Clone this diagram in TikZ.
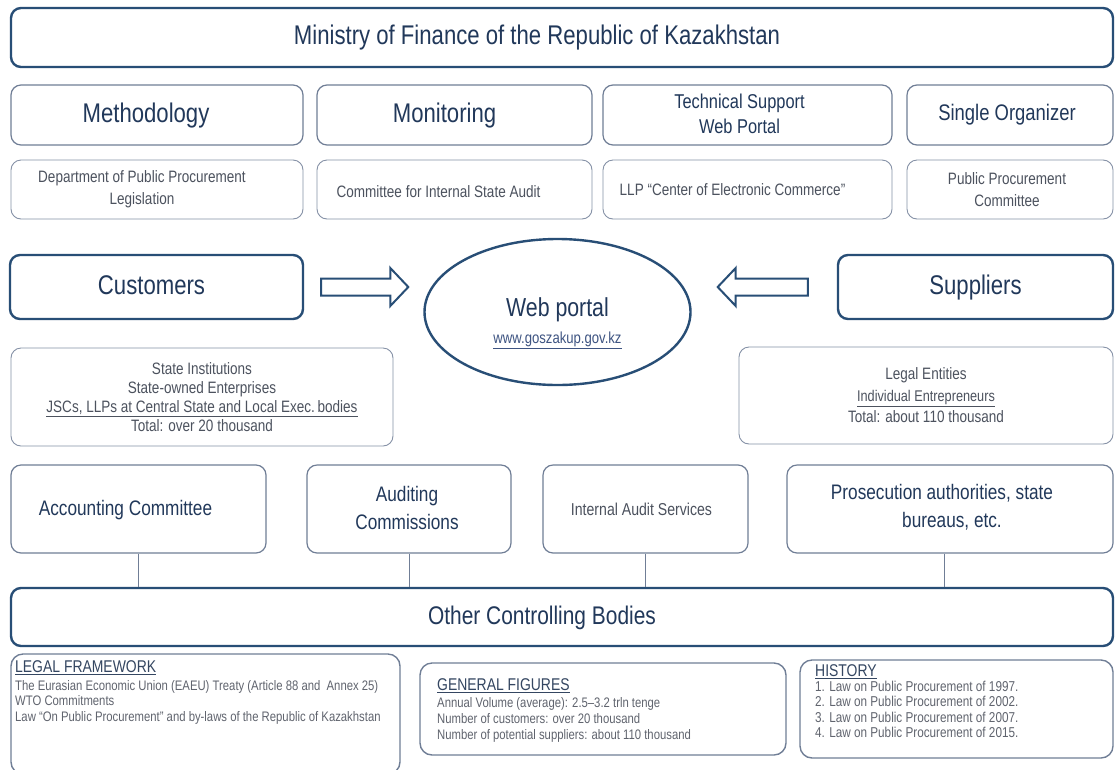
\documentclass[tikz,border=0pt]{standalone}
\usepackage{fontspec}
\setmainfont{Liberation Sans}[FakeStretch=0.82]
\usetikzlibrary{calc,shapes.geometric}

\definecolor{navy}{RGB}{33,56,90}
\definecolor{edge}{RGB}{40,78,118}
\definecolor{thinedge}{RGB}{112,126,150}
\definecolor{bodytext}{RGB}{76,82,94}
\definecolor{notetext}{RGB}{96,100,110}
\definecolor{linktext}{RGB}{62,84,130}

\newcommand{\fsz}[2]{\fontsize{#1}{#2}\selectfont}

\tikzset{
  heavybox/.style={draw=edge, line width=2.4pt, rounded corners=10pt, inner sep=0pt},
  lightbox/.style={draw=thinedge, line width=1.2pt, rounded corners=10pt, inner sep=0pt},
  faintbox/.style={draw=thinedge!85, line width=0.9pt, rounded corners=10pt, inner sep=0pt},
  notebox/.style={draw=thinedge, line width=1.4pt, rounded corners=12pt, inner sep=0pt},
  title/.style={text=navy, font=\fsz{27}{32}, inner sep=0pt, text height=19.5pt, text depth=5.5pt},
  subtitle/.style={text=navy, font=\fsz{21}{28}, align=center, inner sep=0pt},
  small/.style={text=bodytext, font=\fsz{16.5}{22}, align=center, inner sep=0pt},
  notehead/.style={text=navy!80!gray, font=\fsz{17}{18}, anchor=west, inner sep=0pt},
  notebody/.style={text=notetext, font=\fsz{13.8}{15.5}, align=left, anchor=north west, inner sep=0pt},
  blockarrow/.style={draw=edge, line width=2pt, fill=white, line join=miter},
  tie/.style={draw=thinedge, line width=0.9pt}
}

\begin{document}
\begin{tikzpicture}[x=1pt,y=-1pt]
\useasboundingbox (0,0) rectangle (1115,769);
\fill[white] (0,0) rectangle (1115,769);

% ministry header
\node[heavybox, minimum width=1102pt, minimum height=59pt] (min) at (562,37.5) {};
\node[title] (min-t) at ($(min)+(-25,0)$) {Ministry of Finance of the Republic of Kazakhstan};

% functions
\node[lightbox, minimum width=292pt, minimum height=60pt] (meth) at (157,115) {};
\node[lightbox, minimum width=275pt, minimum height=60pt] (moni) at (454.5,115) {};
\node[lightbox, minimum width=289pt, minimum height=60pt] (tech) at (747.5,115) {};
\node[lightbox, minimum width=206pt, minimum height=60pt] (sing) at (1010,115) {};
\node[title] (meth-t) at ($(meth)+(-11,0)$) {Methodology};
\node[title] (moni-t) at ($(moni)+(-10,0)$) {Monitoring};
\node[text=navy, font=\fsz{20}{25}, align=center, inner sep=0pt] (tech-t) at ($(tech)+(-8,-1)$) {Technical Support\\Web Portal};
\node[text=navy, font=\fsz{22.5}{26}, inner sep=0pt] (sing-t) at ($(sing)+(-3,0)$) {Single Organizer};

% responsible bodies
\node[faintbox, minimum width=292pt, minimum height=59pt] (dept) at (157,189.5) {};
\node[faintbox, minimum width=275pt, minimum height=59pt] (cisa) at (454.5,189.5) {};
\node[faintbox, minimum width=289pt, minimum height=59pt] (llp) at (747.5,189.5) {};
\node[faintbox, minimum width=206pt, minimum height=59pt] (ppc) at (1010,189.5) {};
\node[small] (dept-t) at ($(dept)+(-15,0)$) {Department of Public Procurement\\Legislation};
\node[small] (cisa-t) at ($(cisa)+(-16,2)$) {Committee for Internal State Audit};
\node[small] (llp-t) at ($(llp)+(-15,0)$) {LLP “Center of Electronic Commerce”};
\node[small] (ppc-t) at ($(ppc)+(-3,0)$) {Public Procurement\\Committee};

% participants and the portal
\node[heavybox, minimum width=293pt, minimum height=64pt] (cust) at (156.5,287) {};
\node[heavybox, minimum width=275pt, minimum height=64pt] (supp) at (975.5,287) {};
\node[title] (cust-t) at ($(cust)+(-5,0)$) {Customers};
\node[title] (supp-t) at (supp) {Suppliers};

\node[draw=edge, line width=2.4pt, ellipse, minimum width=266pt, minimum height=146pt, inner sep=0pt] (portal) at (557.5,312) {};
\node[text=navy, font=\fsz{26}{30}, inner sep=0pt] (portal-t) at ($(portal)+(0,-2)$) {Web portal};
\node[text=linktext, font=\fsz{16}{18}, inner sep=0pt] (portal-u) at ($(portal)+(0,28)$) {\underline{www.goszakup.gov.kz}};

% block arrows into the portal
\coordinate (ra-s) at ($(cust.east)+(17,0)$);
\coordinate (ra-e) at ($(portal.west |- cust.east)+(-15,0)$);
\draw[blockarrow] ($(ra-s)+(0,-8.5)$) -- ($(ra-e)+(-18,-8.5)$) -- ($(ra-e)+(-18,-19)$) -- (ra-e)
  -- ($(ra-e)+(-18,19)$) -- ($(ra-e)+(-18,8.5)$) -- ($(ra-s)+(0,8.5)$) -- cycle;
\coordinate (la-s) at ($(supp.west)+(-29,0)$);
\coordinate (la-e) at ($(portal.east |- supp.west)+(26,0)$);
\draw[blockarrow] ($(la-s)+(0,-8.5)$) -- ($(la-e)+(18,-8.5)$) -- ($(la-e)+(18,-19)$) -- (la-e)
  -- ($(la-e)+(18,19)$) -- ($(la-e)+(18,8.5)$) -- ($(la-s)+(0,8.5)$) -- cycle;

% who they are
\node[faintbox, minimum width=382pt, minimum height=98pt] (inst) at (202,397) {};
\node[text=bodytext, font=\fsz{16.5}{19}, align=center, inner sep=0pt] (inst-t) at ($(inst)+(0,0)$)
  {State Institutions\\State-owned Enterprises\\\underline{JSCs, LLPs at Central State and Local Exec.\,bodies}\\Total: over 20 thousand};
\node[faintbox, minimum width=374pt, minimum height=97pt] (ent) at (926,395.5) {};
\node[text=bodytext, font=\fsz{16.5}{21.5}, align=center, inner sep=0pt] (ent-t) at ($(ent)+(0,0)$)
  {Legal Entities\\{\fsz{15.5}{21.5}\underline{Individual Entrepreneurs}}\\Total: about 110 thousand};

% controlling bodies
\node[lightbox, minimum width=255pt, minimum height=88pt] (acc) at (138.5,509) {};
\node[lightbox, minimum width=204pt, minimum height=88pt] (aud) at (409,509) {};
\node[lightbox, minimum width=205pt, minimum height=88pt] (ias) at (645.5,509) {};
\node[lightbox, minimum width=326pt, minimum height=88pt] (pro) at (950,509) {};
\node[subtitle] (acc-t) at ($(acc)+(-13,1)$) {Accounting Committee};
\node[subtitle] (aud-t) at ($(aud)+(-2,-1)$) {Auditing\\Commissions};
\node[text=bodytext, font=\fsz{17.2}{20}, inner sep=0pt] (ias-t) at ($(ias)+(-4,0)$) {Internal Audit Services};
\node[subtitle] (pro-t) at ($(pro)+(-8,-2)$) {Prosecution authorities, state\\\hspace*{20pt}bureaus, etc.};

\node[heavybox, minimum width=1102pt, minimum height=58pt] (oth) at (562,617) {};
\node[title, font=\fsz{25.5}{30}] (oth-t) at ($(oth)+(-20,0)$) {Other Controlling Bodies};

\draw[tie] (acc.south) -- (acc.south |- oth.north);
\draw[tie] (aud.south) -- (aud.south |- oth.north);
\draw[tie] (ias.south) -- (ias.south |- oth.north);
\draw[tie] ($(pro.south)+(-6,0)$) -- ($(pro.south |- oth.north)+(-6,0)$);

% notes
\node[notebox, minimum width=389pt, minimum height=120pt] (legal) at (205.5,714) {};
\node[notehead] (legal-h) at (15,668) {\underline{LEGAL FRAMEWORK}};
\node[notebody] (legal-b) at (15,680) {The Eurasian Economic Union (EAEU) Treaty (Article 88 and\ \ Annex 25)\\WTO Commitments\\Law “On Public Procurement” and by-laws of the Republic of Kazakhstan};

\node[notebox, minimum width=366pt, minimum height=92pt] (gen) at (603,709) {};
\node[notehead] (gen-h) at (437,686) {\underline{GENERAL FIGURES}};
\node[notebody, font=\fsz{13.8}{16}] (gen-b) at (437,697) {Annual Volume (average): 2.5–3.2 trln tenge\\Number of customers: over 20 thousand\\Number of potential suppliers: about 110 thousand};

\node[notebox, minimum width=313pt, minimum height=98pt] (hist) at (956.5,709) {};
\node[notehead] (hist-h) at (815,672) {\underline{HISTORY}};
\node[notebody, font=\fsz{14.3}{15.4}] (hist-b) at (815,681) {1. Law on Public Procurement of 1997.\\2. Law on Public Procurement of 2002.\\3. Law on Public Procurement of 2007.\\4. Law on Public Procurement of 2015.};
\end{tikzpicture}
\end{document}
